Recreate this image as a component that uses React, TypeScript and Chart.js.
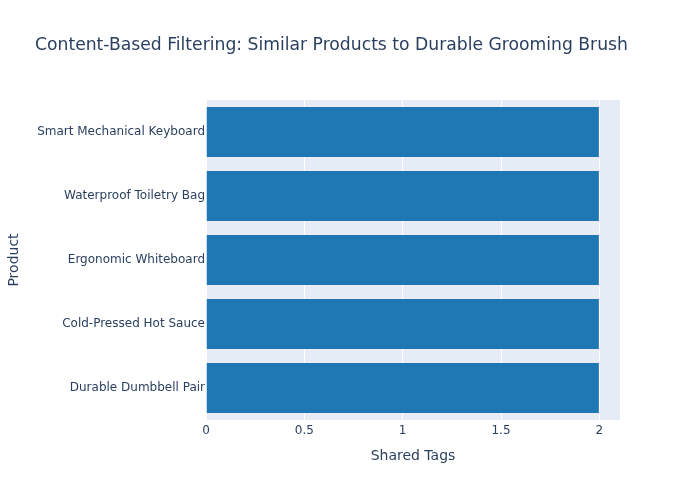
import React, { useEffect, useRef } from "react";
import { Chart, registerables } from "chart.js";

Chart.register(...registerables);

const products: string[] = [
  "Smart Mechanical Keyboard",
  "Waterproof Toiletry Bag",
  "Ergonomic Whiteboard",
  "Cold-Pressed Hot Sauce",
  "Durable Dumbbell Pair",
];
const sharedTags: number[] = [2, 2, 2, 2, 2];
const titleText = "Content-Based Filtering: Similar Products to Durable Grooming Brush";
const xAxisTitle = "Shared Tags";
const yAxisTitle = "Product";
const xMin = 0;
const xMax = 2.105;
const xStep = 0.5;

const FONT = "'DejaVu Sans', Verdana, sans-serif";
const TEXT = "#2a3f5f";

export default function App() {
  const ref = useRef<HTMLCanvasElement | null>(null);
  useEffect(() => {
    if (!ref.current) return;
    const bgPlugin = {
      id: "plotBg",
      beforeDraw(chart: any) {
        const { ctx, chartArea } = chart;
        ctx.save();
        ctx.fillStyle = "#E5ECF6";
        ctx.fillRect(chartArea.left, chartArea.top, chartArea.right - chartArea.left, chartArea.bottom - chartArea.top);
        ctx.restore();
      },
      afterDraw(chart: any) {
        const { ctx } = chart;
        ctx.save();
        ctx.fillStyle = TEXT;
        ctx.font = `17.2px ${FONT}`;
        ctx.textAlign = "left";
        ctx.textBaseline = "middle";
        ctx.fillText(titleText, 35, 45.5);
        ctx.restore();
      },
    };
    const chart = new Chart(ref.current, {
      type: "bar",
      data: {
        labels: products,
        datasets: [
          {
            data: sharedTags,
            backgroundColor: "#1f77b4",
            borderColor: "#E5ECF6",
            borderWidth: 0.5,
            barPercentage: 0.8,
            categoryPercentage: 1,
          },
        ],
      },
      options: {
        indexAxis: "y",
        responsive: false,
        animation: false,
        layout: { padding: { left: 0, top: 100, right: 80, bottom: 0 } },
        plugins: { legend: { display: false }, tooltip: { enabled: false }, title: { display: false } },
        scales: {
          x: {
            type: "linear",
            min: xMin,
            max: xMax,
            grid: { color: "#ffffff", lineWidth: 1, drawTicks: false },
            border: { display: false },
            ticks: {
              stepSize: xStep,
              includeBounds: false,
              padding: 4,
              color: TEXT,
              font: { family: FONT, size: 12 },
              callback: (v: any) => String(Number(v)),
            },
            title: {
              display: true,
              text: xAxisTitle,
              color: TEXT,
              font: { family: FONT, size: 14 },
              padding: { top: 0, bottom: 35 },
            },
            afterFit(scale: any) {
              scale.height = 80;
            },
          },
          y: {
            grid: { display: false, drawTicks: false },
            border: { display: false },
            ticks: {
              padding: 1,
              color: TEXT,
              font: { family: FONT, size: 12 },
            },
            title: {
              display: true,
              text: yAxisTitle,
              color: TEXT,
              font: { family: FONT, size: 14 },
              padding: { top: 6, bottom: 0 },
            },
            afterFit(scale: any) {
              scale.width = 206;
            },
          },
        },
      },
      plugins: [bgPlugin],
    });
    return () => chart.destroy();
  }, []);
  return (
    <div style={{ position: "fixed", left: 0, top: 0, width: 700, height: 500, background: "#fff" }}>
      <canvas ref={ref} width={700} height={500} />
    </div>
  );
}
